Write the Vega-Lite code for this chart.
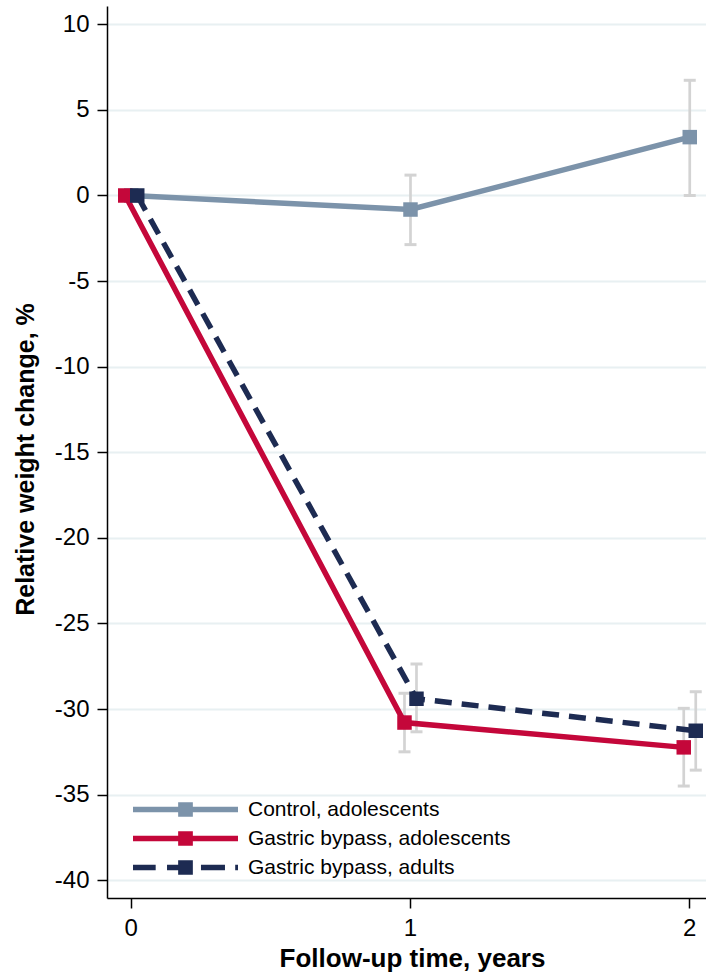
{
  "$schema": "https://vega.github.io/schema/vega-lite/v6.json",
  "autosize": {"type": "none"},
  "padding": {"left": 107, "top": 6, "right": 0, "bottom": 78},
  "width": 599,
  "height": 892,
  "background": "white",
  "config": {"view": {"stroke": null}, "font": "Liberation Sans"},
  "data": {
    "values": [
      {"group": "Control, adolescents", "year": 0, "mean": 0, "lo": null, "hi": null},
      {"group": "Control, adolescents", "year": 1, "mean": -0.82, "lo": -2.87, "hi": 1.19},
      {"group": "Control, adolescents", "year": 2, "mean": 3.41, "lo": 0.0, "hi": 6.73},
      {"group": "Gastric bypass, adolescents", "year": 0, "mean": 0, "lo": null, "hi": null},
      {"group": "Gastric bypass, adolescents", "year": 1, "mean": -30.79, "lo": -32.5, "hi": -29.08},
      {"group": "Gastric bypass, adolescents", "year": 2, "mean": -32.24, "lo": -34.5, "hi": -29.96},
      {"group": "Gastric bypass, adults", "year": 0, "mean": 0, "lo": null, "hi": null},
      {"group": "Gastric bypass, adults", "year": 1, "mean": -29.4, "lo": -31.33, "hi": -27.37},
      {"group": "Gastric bypass, adults", "year": 2, "mean": -31.27, "lo": -33.57, "hi": -28.99}
    ]
  },
  "encoding": {
    "x": {
      "field": "year", "type": "quantitative",
      "scale": {"domain": [-0.085, 2.06], "nice": false, "zero": false},
      "axis": {
        "values": [0, 1, 2], "labelExpr": "'' + datum.value", "grid": false,
        "domainColor": "black", "domainWidth": 1.5,
        "tickColor": "black", "tickWidth": 1.5, "tickSize": 10,
        "labelFontSize": 24, "labelColor": "black", "labelPadding": 8, "labelFont": "Liberation Sans",
        "title": "Follow-up time, years", "titleFontSize": 26, "titleFont": "Liberation Sans",
        "titleFontWeight": "bold", "titleColor": "black",
        "titleX": 305, "titleY": 68, "titleBaseline": "alphabetic", "titleAlign": "center"
      }
    },
    "y": {
      "field": "mean", "type": "quantitative",
      "scale": {"domain": [-41.04, 11.07], "nice": false, "zero": false},
      "axis": {
        "values": [-40, -35, -30, -25, -20, -15, -10, -5, 0, 5, 10],
        "labelExpr": "'' + datum.value",
        "grid": true, "gridColor": "#e8f0f2", "gridWidth": 2,
        "domainColor": "black", "domainWidth": 1.5,
        "tickColor": "black", "tickWidth": 1.5, "tickSize": 10,
        "labelFontSize": 24, "labelColor": "black", "labelPadding": 8, "labelFont": "Liberation Sans",
        "title": "Relative weight change, %", "titleFontSize": 25, "titleFont": "Liberation Sans",
        "titleFontWeight": "bold", "titleColor": "black",
        "titleX": -74, "titleY": 453, "titleAngle": 270, "titleBaseline": "alphabetic", "titleAlign": "center"
      }
    }
  },
  "layer": [
    {
      "transform": [{"filter": "datum.group === 'Control, adolescents' && datum.lo != null"}],
      "layer": [
        {
          "mark": {"type": "rule", "color": "#d3d3d3", "strokeWidth": 2.7, "xOffset": 0.5},
          "encoding": {"y": {"field": "lo", "type": "quantitative", "title": "Relative weight change, %"}, "y2": {"field": "hi"}}
        },
        {
          "transform": [{"fold": ["lo", "hi"], "as": ["end", "val"]}],
          "mark": {"type": "tick", "orient": "horizontal", "color": "#d3d3d3", "size": 12, "thickness": 3, "opacity": 1, "xOffset": 0.5},
          "encoding": {"y": {"field": "val", "type": "quantitative", "title": "Relative weight change, %"}}
        }
      ]
    },
    {
      "transform": [{"filter": "datum.group === 'Gastric bypass, adolescents' && datum.lo != null"}],
      "layer": [
        {
          "mark": {"type": "rule", "color": "#d3d3d3", "strokeWidth": 2.7, "xOffset": -5.5},
          "encoding": {"y": {"field": "lo", "type": "quantitative", "title": "Relative weight change, %"}, "y2": {"field": "hi"}}
        },
        {
          "transform": [{"fold": ["lo", "hi"], "as": ["end", "val"]}],
          "mark": {"type": "tick", "orient": "horizontal", "color": "#d3d3d3", "size": 12, "thickness": 3, "opacity": 1, "xOffset": -5.5},
          "encoding": {"y": {"field": "val", "type": "quantitative", "title": "Relative weight change, %"}}
        }
      ]
    },
    {
      "transform": [{"filter": "datum.group === 'Gastric bypass, adults' && datum.lo != null"}],
      "layer": [
        {
          "mark": {"type": "rule", "color": "#d3d3d3", "strokeWidth": 2.7, "xOffset": 6.5},
          "encoding": {"y": {"field": "lo", "type": "quantitative", "title": "Relative weight change, %"}, "y2": {"field": "hi"}}
        },
        {
          "transform": [{"fold": ["lo", "hi"], "as": ["end", "val"]}],
          "mark": {"type": "tick", "orient": "horizontal", "color": "#d3d3d3", "size": 12, "thickness": 3, "opacity": 1, "xOffset": 6.5},
          "encoding": {"y": {"field": "val", "type": "quantitative", "title": "Relative weight change, %"}}
        }
      ]
    },
    {
      "encoding": {
        "color": {
          "field": "group", "type": "nominal",
          "scale": {
            "domain": ["Control, adolescents", "Gastric bypass, adolescents", "Gastric bypass, adults"],
            "range": ["#7c93aa", "#c4073a", "#1d2b52"]
          },
          "legend": {
            "orient": "none", "legendX": 23, "legendY": 793, "title": null, "padding": 0,
            "labelFontSize": 21, "labelFont": "Liberation Sans", "labelColor": "black", "labelLimit": 500,
            "symbolSize": 196, "symbolOffset": 45, "labelOffset": 52, "rowPadding": 7,
            "encode": {
              "symbols": {
                "update": {
                  "shape": {"signal": "datum.value === 'Gastric bypass, adults' ? 'M-7.5,-0.38H-4.26V0.38H-7.5Z M-2.64,-0.38H1V0.38H-2.64Z M-1.05,-1.05H1.05V1.05H-1.05Z M2.21,-0.38H5.64V0.38H2.21Z M7.1,-0.38H7.5V0.38H7.1Z' : 'M-7.5,-0.38H7.5V0.38H-7.5Z M-1.05,-1.05H1.05V1.05H-1.05Z'"},
                  "fill": {"scale": "color", "field": "value"},
                  "stroke": {"value": "transparent"},
                  "strokeWidth": {"value": 0},
                  "opacity": {"value": 1}
                }
              }
            }
          }
        }
      },
      "layer": [
        {
          "transform": [{"filter": "datum.group === 'Control, adolescents'"}],
          "mark": {"type": "line", "strokeWidth": 5.5, "xOffset": 0.5}
        },
        {
          "transform": [{"filter": "datum.group === 'Control, adolescents'"}],
          "mark": {"type": "point", "shape": "square", "filled": true, "size": 210, "opacity": 1, "xOffset": 0.5}
        },
        {
          "transform": [{"filter": "datum.group === 'Gastric bypass, adolescents'"}],
          "mark": {"type": "line", "strokeWidth": 5.5, "xOffset": -5.5}
        },
        {
          "transform": [{"filter": "datum.group === 'Gastric bypass, adolescents'"}],
          "mark": {"type": "point", "shape": "square", "filled": true, "size": 210, "opacity": 1, "xOffset": -5.5}
        },
        {
          "transform": [{"filter": "datum.group === 'Gastric bypass, adults'"}],
          "mark": {"type": "line", "strokeWidth": 5.5, "strokeDash": [17, 10], "xOffset": 6.5}
        },
        {
          "transform": [{"filter": "datum.group === 'Gastric bypass, adults'"}],
          "mark": {"type": "point", "shape": "square", "filled": true, "size": 210, "opacity": 1, "xOffset": 6.5}
        }
      ]
    }
  ]
}
